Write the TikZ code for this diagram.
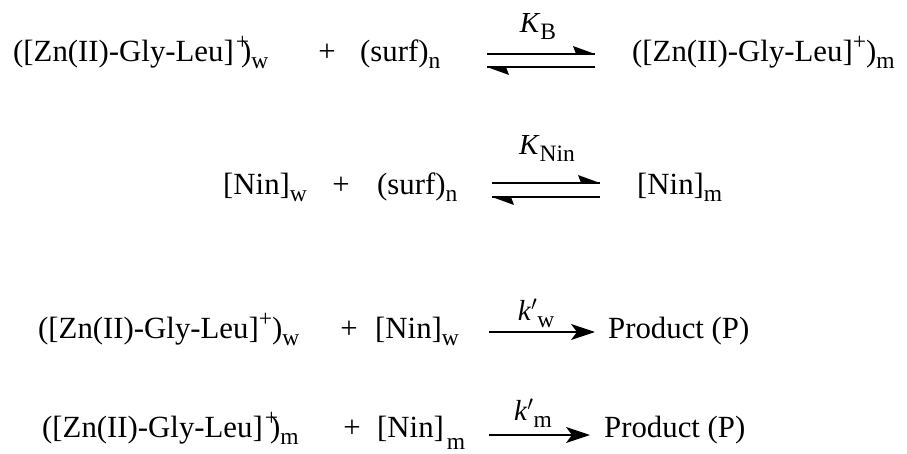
\documentclass[tikz,border=0pt]{standalone}
\usepackage{fontspec}
\setmainfont{Liberation Serif}
\usetikzlibrary{arrows.meta}
\newcommand{\mysub}[1]{\raisebox{-7pt}{\fontsize{23.5}{24}\selectfont #1}}
\newcommand{\mysup}[1]{\raisebox{12pt}{\fontsize{23.5}{24}\selectfont #1}}
\begin{document}
\begin{tikzpicture}[x=1pt,y=-1pt,
  txt/.style={inner sep=0pt, anchor=base west, font=\fontsize{30.8}{36}\selectfont},
  pl/.style={inner sep=0pt, anchor=base, font=\fontsize{30.8}{36}\selectfont},
  lbl/.style={inner sep=0pt, anchor=base, font=\fontsize{29}{34}\selectfont},
  ln/.style={line width=1.9pt},
  fwd/.style={line width=1.9pt, -{Stealth[length=24pt,width=16pt,inset=6pt]}}]
\useasboundingbox (0,0) rectangle (907,454);
% Row 1
\node[txt] (r1a) at (13,62) {([Zn(II)-Gly-Leu]\kern2pt\mysup{+}\kern-8pt)\mysub{w}};
\node[pl] (r1p) at (327,62) {+};
\node[txt] (r1s) at (360,62) {(surf)\mysub{n}};
\coordinate (h1a) at (487,54); \coordinate (h1b) at (595,54);
\coordinate (h2a) at (595,67); \coordinate (h2b) at (487,67);
\draw[ln] (h1a) -- (h1b);
\fill (h1b) -- ++(-22,-8) -- ++(3,8) -- cycle;
\draw[ln] (h2a) -- (h2b);
\fill (h2b) -- ++(22,8) -- ++(-3,-8) -- cycle;
\node[lbl] (kb) at (538,33) {\textit{K}\mysub{B}};
\node[txt] (r1b) at (632,62) {([Zn(II)-Gly-Leu]\mysup{+})\mysub{m}};
% Row 2
\node[txt] (r2a) at (223,195) {[Nin]\mysub{w}};
\node[pl] (r2p) at (341,195) {+};
\node[txt] (r2s) at (377,195) {(surf)\mysub{n}};
\coordinate (g1a) at (492,183); \coordinate (g1b) at (600,183);
\coordinate (g2a) at (600,197); \coordinate (g2b) at (492,197);
\draw[ln] (g1a) -- (g1b);
\fill (g1b) -- ++(-22,-8) -- ++(3,8) -- cycle;
\draw[ln] (g2a) -- (g2b);
\fill (g2b) -- ++(22,8) -- ++(-3,-8) -- cycle;
\node[lbl] (kn) at (547,155) {\textit{K}\mysub{Nin}};
\node[txt] (r2b) at (637,195) {[Nin]\mysub{m}};
% Row 3
\node[txt] (r3a) at (38,338) {([Zn(II)-Gly-Leu]\mysup{+})\mysub{w}};
\node[pl] (r3p) at (349,338) {+};
\node[txt] (r3n) at (375,338) {[Nin]\mysub{w}};
\coordinate (f1a) at (489,332); \coordinate (f1b) at (595,332);
\draw[fwd] (f1a) -- (f1b);
\node[lbl] (kw) at (536,320) {\textit{k}$'$\mysub{w}};
\node[txt] (r3b) at (608,338) {Product (P)};
% Row 4
\node[txt] (r4a) at (42,437) {([Zn(II)-Gly-Leu]\kern2pt\mysup{+}\kern-8pt)\mysub{m}};
\node[pl] (r4p) at (352,437) {+};
\node[txt] (r4n) at (377,437) {[Nin]\kern3pt\raisebox{-12pt}{\fontsize{23.5}{24}\selectfont m}};
\coordinate (e1a) at (489,435); \coordinate (e1b) at (590,435);
\draw[fwd] (e1a) -- (e1b);
\node[lbl] (km) at (533,420) {\textit{k}$'$\mysub{m}};
\node[txt] (r4b) at (604,437) {Product (P)};
\end{tikzpicture}
\end{document}
